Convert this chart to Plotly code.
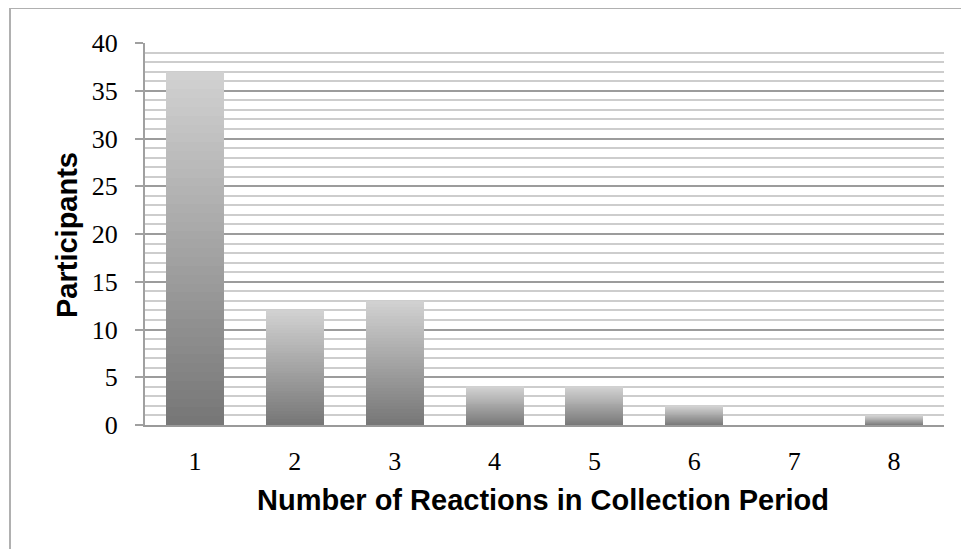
import plotly.graph_objects as go

categories = ["1", "2", "3", "4", "5", "6", "7", "8"]
participants = [37, 12, 13, 4, 4, 2, 0, 1]
y_ticks = [0, 5, 10, 15, 20, 25, 30, 35, 40]

W, H = 969, 549
OFF = 8  # page body margin of the html page
L, T = 145 - OFF, 43 - OFF
R = W - (944 - OFF)
B = H - (425 - OFF)

fig = go.Figure()

# gradient bars: each bar split into equal stacked slices, dark at the bottom, light at the top
N = 40
c_bot = (118, 118, 118)
c_top = (210, 210, 210)
for k in range(N):
    f = (k + 0.5) / N
    col = tuple(round(c_bot[i] + (c_top[i] - c_bot[i]) * f) for i in range(3))
    fig.add_trace(go.Bar(
        x=categories,
        y=[v / N for v in participants],
        marker=dict(color="rgb(%d,%d,%d)" % col, line=dict(width=0)),
        width=0.58,
        showlegend=False,
        hoverinfo="skip",
    ))

pw = W - L - R
ph = H - T - B

def px_x(x):
    return (x - OFF - L) / pw

def px_y(y):
    return (H - B - (y - OFF)) / ph

fig.update_layout(
    width=W, height=H,
    margin=dict(l=L, r=R, t=T, b=B),
    paper_bgcolor="white",
    plot_bgcolor="white",
    barmode="stack",
    bargap=0.42,
    xaxis=dict(
        type="category",
        showgrid=False,
        showline=True,
        linecolor="#9a9a9a",
        linewidth=2,
        ticks="",
        tickfont=dict(family="Liberation Serif", size=26, color="black"),
        ticklabelstandoff=12,
    ),
    yaxis=dict(
        range=[0, 40],
        tickvals=y_ticks,
        showgrid=True,
        gridcolor="#9c9c9c",
        gridwidth=1.5,
        showline=True,
        linecolor="#a0a0a0",
        linewidth=2,
        ticks="outside",
        ticklen=8,
        tickwidth=2,
        tickcolor="#a0a0a0",
        zeroline=False,
        tickfont=dict(family="Liberation Serif", size=26, color="black"),
        ticklabelstandoff=12,
        minor=dict(dtick=1, showgrid=True, gridcolor="#cdcdcd", gridwidth=1.5, ticks=""),
    ),
    annotations=[
        dict(text="<b>Number of Reactions in Collection Period</b>", xref="paper", yref="paper",
             x=px_x(543), y=px_y(500), xanchor="center", yanchor="middle", showarrow=False,
             font=dict(family="Liberation Sans", size=29, color="black")),
        dict(text="<b>Participants</b>", xref="paper", yref="paper",
             x=px_x(67), y=px_y(235), xanchor="center", yanchor="middle", showarrow=False,
             textangle=-90,
             font=dict(family="Liberation Sans", size=29, color="black")),
    ],
    shapes=[
        dict(type="rect", xref="paper", yref="paper",
             x0=px_x(10), x1=px_x(990), y0=px_y(570), y1=px_y(8),
             line=dict(color="#b0b0b0", width=2), fillcolor="rgba(0,0,0,0)", layer="below"),
    ],
)

fig.write_html("out.html")
